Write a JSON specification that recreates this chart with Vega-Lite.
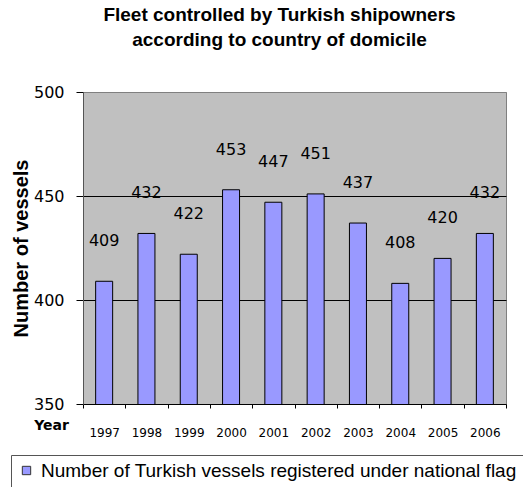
{
  "$schema": "https://vega.github.io/schema/vega-lite/v6.json",
  "width": 423,
  "height": 312,
  "autosize": {"type": "none"},
  "padding": {"left": 83, "top": 92, "right": 17, "bottom": 83},
  "background": "white",
  "title": {
    "text": ["Fleet controlled by Turkish shipowners", "according to country of domicile"],
    "font": "Liberation Sans",
    "fontSize": 19,
    "fontWeight": "bold",
    "color": "black",
    "lineHeight": 25,
    "anchor": "middle",
    "dx": -15,
    "offset": 34
  },
  "config": {
    "view": {"fill": "#C0C0C0", "stroke": "#808080", "strokeWidth": 1}
  },
  "data": {
    "values": [
      {"year": "1997", "vessels": 409},
      {"year": "1998", "vessels": 432},
      {"year": "1999", "vessels": 422},
      {"year": "2000", "vessels": 453},
      {"year": "2001", "vessels": 447},
      {"year": "2002", "vessels": 451},
      {"year": "2003", "vessels": 437},
      {"year": "2004", "vessels": 408},
      {"year": "2005", "vessels": 420},
      {"year": "2006", "vessels": 432}
    ]
  },
  "encoding": {
    "x": {
      "field": "year",
      "type": "ordinal",
      "scale": {"paddingInner": 0, "paddingOuter": 0},
      "axis": {
        "title": "Year",
        "titleFont": "DejaVu Sans",
        "titleFontSize": 14,
        "titleFontWeight": "bold",
        "titleColor": "black",
        "titleX": -32,
        "titleY": 21,
        "titleAlign": "center",
        "titleBaseline": "middle",
        "labelAngle": 0,
        "labelFont": "DejaVu Sans",
        "labelFontSize": 12,
        "labelColor": "black",
        "labelPadding": 19,
        "tickBand": "extent",
        "tickSize": 4,
        "tickColor": "black",
        "domainColor": "black",
        "grid": false
      }
    },
    "y": {
      "field": "vessels",
      "type": "quantitative",
      "scale": {"domain": [350, 500], "nice": false, "zero": false},
      "axis": {
        "title": "Number of vessels",
        "titleFont": "Liberation Sans",
        "titleFontSize": 20,
        "titleFontWeight": "bold",
        "titleColor": "black",
        "titlePadding": 2,
        "values": [350, 400, 450, 500],
        "labelFont": "DejaVu Sans",
        "labelFontSize": 16,
        "labelColor": "black",
        "labelPadding": 12,
        "tickSize": 7,
        "tickColor": "black",
        "domainColor": "#555555",
        "grid": true,
        "gridColor": {"condition": {"test": "datum.value == 500 || datum.value == 350", "value": "#808080"}, "value": "black"},
        "gridOpacity": 1
      }
    }
  },
  "layer": [
    {
      "mark": {"type": "bar", "width": 17, "stroke": "black", "strokeWidth": 1, "clip": true},
      "encoding": {
        "color": {
          "datum": "Number of Turkish vessels registered under national flag",
          "scale": {"range": ["#9999FF"]},
          "legend": {
            "title": null,
            "orient": "none",
            "legendX": -72,
            "legendY": 363,
            "strokeColor": "#555555",
            "fillColor": "white",
            "padding": 6,
            "symbolType": "square",
            "symbolSize": 70,
            "symbolStrokeColor": "#333333",
            "symbolStrokeWidth": 1,
            "symbolOpacity": 1,
            "labelFont": "Liberation Sans",
            "labelFontSize": 19,
            "labelColor": "black",
            "labelOffset": 5,
            "labelLimit": 0
          }
        }
      }
    },
    {
      "mark": {"type": "text", "dy": -40, "baseline": "middle", "font": "DejaVu Sans", "fontSize": 16, "color": "black"},
      "encoding": {"text": {"field": "vessels", "type": "quantitative"}}
    }
  ]
}
